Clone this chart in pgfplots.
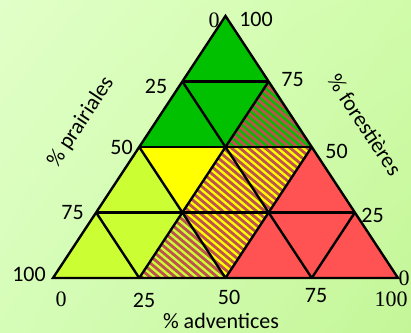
\documentclass[border=0pt]{standalone}
\usepackage{pgfplots}
\pgfplotsset{compat=1.18}
\usetikzlibrary{shadings}
\usepackage{fontspec}
\setmainfont{Carlito}
\newfontfamily\serifnum{Liberation Serif}

\definecolor{bgA}{RGB}{225,255,200}
\definecolor{bgB}{RGB}{208,252,170}
\definecolor{bgC}{RGB}{214,253,184}
\definecolor{bgD}{RGB}{196,246,152}
\definecolor{cgreen}{RGB}{0,192,0}
\definecolor{cyellow}{RGB}{255,255,0}
\definecolor{clime}{RGB}{204,255,51}
\definecolor{cred}{RGB}{255,82,82}
\definecolor{stripe}{RGB}{190,82,78}

\tikzset{cellline/.style={black,line width=2.4bp}}
\pgfplotsset{tri/.style={at={(53bp,55bp)},anchor=south west,scale only axis,
  width=345bp,height=262bp,xmin=0,xmax=4,ymin=0,ymax=4,hide axis,clip=false}}

\begin{document}
\begin{tikzpicture}
\shade[upper left=bgA,upper right=bgB,lower left=bgC,lower right=bgD] (0bp,0bp) rectangle (411bp,333bp);

% cell fills
\begin{axis}[tri]
\addplot[fill=cgreen,draw=none] coordinates {(1.5,3)(2.5,3)(2,4)} -- cycle;
\addplot[fill=cgreen,draw=none] coordinates {(1,2)(2,2)(1.5,3)} -- cycle;
\addplot[fill=cgreen,draw=none] coordinates {(1.5,3)(2.5,3)(2,2)} -- cycle;
\addplot[fill=cgreen,draw=none] coordinates {(2,2)(3,2)(2.5,3)} -- cycle;
\addplot[fill=clime,draw=none]   coordinates {(0.5,1)(1.5,1)(1,2)} -- cycle;
\addplot[fill=cyellow,draw=none] coordinates {(1,2)(2,2)(1.5,1)} -- cycle;
\addplot[fill=cyellow,draw=none] coordinates {(1.5,1)(2.5,1)(2,2)} -- cycle;
\addplot[fill=cyellow,draw=none] coordinates {(2,2)(3,2)(2.5,1)} -- cycle;
\addplot[fill=cred,draw=none]    coordinates {(2.5,1)(3.5,1)(3,2)} -- cycle;
\addplot[fill=clime,draw=none]   coordinates {(0,0)(1,0)(0.5,1)} -- cycle;
\addplot[fill=clime,draw=none]   coordinates {(0.5,1)(1.5,1)(1,0)} -- cycle;
\addplot[fill=clime,draw=none]   coordinates {(1,0)(2,0)(1.5,1)} -- cycle;
\addplot[fill=cyellow,draw=none] coordinates {(1.5,1)(2.5,1)(2,0)} -- cycle;
\addplot[fill=cred,draw=none]    coordinates {(2,0)(3,0)(2.5,1)} -- cycle;
\addplot[fill=cred,draw=none]    coordinates {(2.5,1)(3.5,1)(3,0)} -- cycle;
\addplot[fill=cred,draw=none]    coordinates {(3,0)(4,0)(3.5,1)} -- cycle;
\end{axis}

% stripes over the mixed cells (1,0)(2,0)(3,2)(2.5,3)
\begin{scope}
\clip (139.25bp,55bp) -- (225.5bp,55bp) -- (311.75bp,186bp) -- (268.625bp,251.5bp) -- cycle;
\foreach \s in {200,208.4,...,625}
  \draw[stripe,line width=2.8bp] (\s bp,0bp) -- ++(-320bp,268.5bp);
\end{scope}

% cell borders
\begin{axis}[tri]
\addplot[cellline] coordinates {(0.5,1)(3.5,1)};
\addplot[cellline] coordinates {(1,2)(3,2)};
\addplot[cellline] coordinates {(1.5,3)(2.5,3)};
\addplot[cellline] coordinates {(1,0)(2.5,3)};
\addplot[cellline] coordinates {(2,0)(3,2)};
\addplot[cellline] coordinates {(3,0)(3.5,1)};
\addplot[cellline] coordinates {(3,0)(1.5,3)};
\addplot[cellline] coordinates {(2,0)(1,2)};
\addplot[cellline] coordinates {(1,0)(0.5,1)};
\addplot[cellline] coordinates {(0,0)(4,0)(2,4)} -- cycle;
\end{axis}

\begin{scope}[every node/.style={inner sep=0pt},font=\fontsize{22bp}{24bp}\selectfont]
% % prairiales scale
\node at (214bp,313bp) {\serifnum 0};
\node at (156bp,246.5bp) {25};
\node at (121.5bp,185.5bp) {50};
\node at (72.5bp,120.5bp) {75};
\node at (29bp,59bp) {100};
% % forestieres scale
\node at (256bp,313.5bp) {100};
\node at (292.5bp,253.5bp) {75};
\node at (336.5bp,181.5bp) {50};
\node at (372.5bp,118bp) {25};
\node at (404bp,55bp) {\serifnum 0};
% % adventices scale
\node at (61bp,34bp) {\serifnum 0};
\node at (144bp,32.5bp) {25};
\node at (229bp,36bp) {50};
\node at (316bp,37.5bp) {75};
\node at (391bp,34bp) {\serifnum 100};
% titles
\node at (221bp,12bp) {\% adventices};
\node[rotate=56.6] at (81bp,211bp) {\% prairiales};
\node[rotate=-56.6] at (365bp,208bp) {\% forestières};
\end{scope}
\end{tikzpicture}
\end{document}
